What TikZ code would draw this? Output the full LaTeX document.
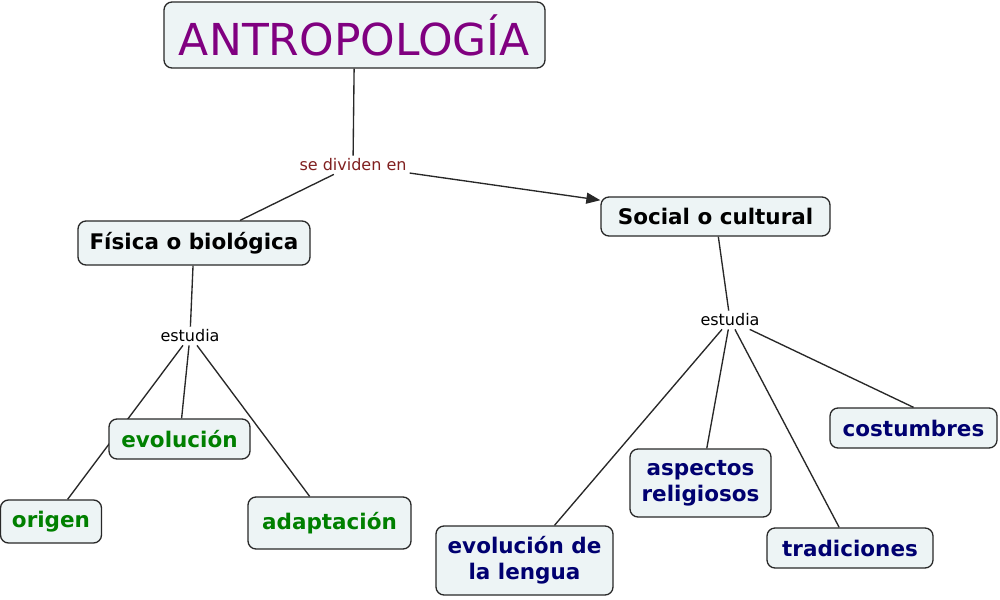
\documentclass[tikz,border=0pt]{standalone}
\usepackage{fontspec}
\setmainfont{DejaVu Sans}
\usetikzlibrary{arrows.meta,backgrounds}
\definecolor{cmapfill}{RGB}{237,244,245}
\definecolor{cmapline}{RGB}{40,40,40}
\definecolor{titlepurple}{RGB}{128,0,128}
\definecolor{termgreen}{RGB}{0,128,0}
\definecolor{termblue}{RGB}{0,0,112}
\definecolor{linkred}{RGB}{128,32,32}
\begin{document}
\begin{tikzpicture}[x=1pt,y=-1pt,
    concept/.style={draw=cmapline,line width=1.3pt,fill=cmapfill,rounded corners=8pt,
      inner sep=0pt,align=center,font=\bfseries\fontsize{21.5}{26}\selectfont},
    linkword/.style={inner sep=3pt,font=\fontsize{16}{19}\selectfont},
    link/.style={cmapline,line width=1.35pt},
    arrowlink/.style={link,-{Triangle[length=14pt,width=11pt]}}]
        \path[use as bounding box] (0,0) rectangle (1000,599);

        % concepts
        \node[concept,minimum width=381pt,minimum height=66pt,text=titlepurple,
              font=\fontsize{44}{50}\selectfont] (antro) at (354.5,35) {ANTROPOLOGÍA};
        \node[concept,minimum width=232pt,minimum height=44pt] (fisica) at (194,243) {Física o biológica};
        \node[concept,minimum width=229pt,minimum height=39pt] (social) at (715.5,216.5) {Social o cultural};
        \node[concept,minimum width=141pt,minimum height=40pt,text=termgreen] (evol) at (179.5,439) {evolución};
        \node[concept,minimum width=101pt,minimum height=43pt,text=termgreen] (origen) at (51,521.5) {origen};
        \node[concept,minimum width=163pt,minimum height=52pt,text=termgreen] (adapt) at (329.5,523) {adaptación};
        \node[concept,minimum width=177pt,minimum height=69pt,text=termblue] (lengua) at (524.5,560.5) {evolución de\\la lengua};
        \node[concept,minimum width=141pt,minimum height=68pt,text=termblue] (relig) at (700.5,483) {aspectos\\religiosos};
        \node[concept,minimum width=166pt,minimum height=40pt,text=termblue] (tradic) at (850,548) {tradiciones};
        \node[concept,minimum width=167pt,minimum height=40pt,text=termblue] (costum) at (913.5,428) {costumbres};

        % linking words
        \node[linkword,text=linkred] (divid) at (353,165) {se dividen en};
        \node[linkword] (estfis) at (190,336) {estudia};
        \node[linkword] (estsoc) at (730,320) {estudia};

        \begin{scope}[on background layer]
            \draw[link] (antro) -- (divid);
            \draw[link] (divid) -- (fisica);
            \draw[arrowlink] (divid) -- (social);

            \draw[link] (fisica) -- (estfis);
            \foreach \t in {evol,origen,adapt} {
                \draw[link] (estfis) -- (\t);
            }

            \draw[link] (social) -- (estsoc);
            \foreach \t in {lengua,relig,tradic} {
                \draw[link] (estsoc) -- (\t);
            }
            \draw[link] (estsoc) -- (costum.north);
        \end{scope}
\end{tikzpicture}
\end{document}
